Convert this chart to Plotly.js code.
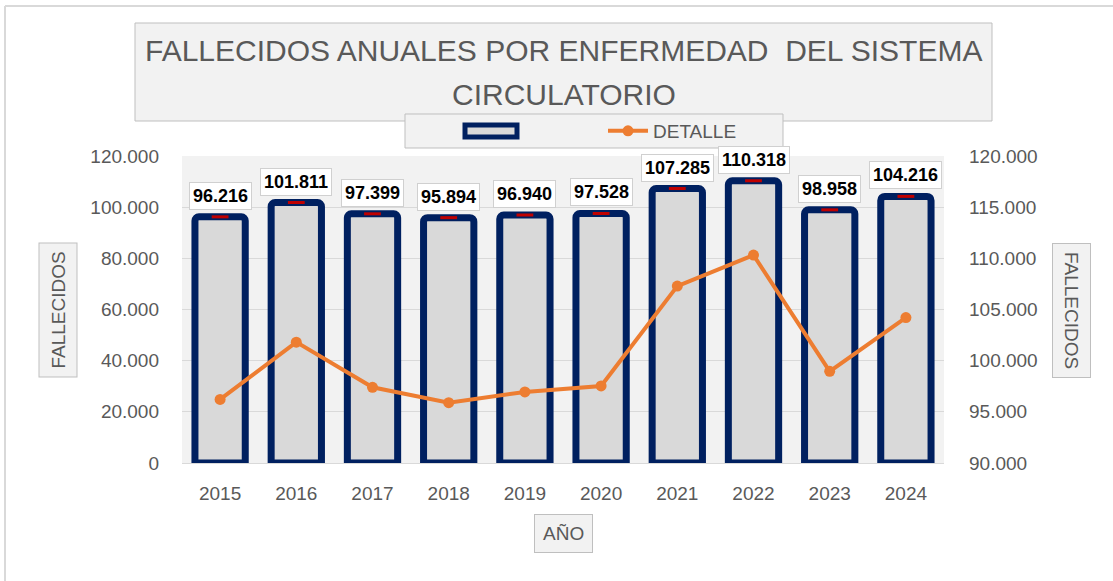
<!DOCTYPE html>
<html>
<head>
<meta charset="utf-8">
<script src="https://cdn.plot.ly/plotly-3.0.1.min.js"></script>
<style>html,body{margin:0;padding:0;background:#fff;}#chart{width:1113px;height:581px;}</style>
</head>
<body>
<div id="chart"></div>
<script>
// ---- data ----
var years = ['2015','2016','2017','2018','2019','2020','2021','2022','2023','2024'];
var fallecidos = [96216, 101811, 97399, 95894, 96940, 97528, 107285, 110318, 98958, 104216];
var titleLines = ['FALLECIDOS ANUALES POR ENFERMEDAD  DEL SISTEMA', 'CIRCULATORIO'];
var seriesName = 'DETALLE';
var yTitle = 'FALLECIDOS';
var xTitle = 'AÑO';

function fmt(v){ return String(v).replace(/\B(?=(\d{3})+(?!\d))/g, '.'); }

var W = 1113, H = 581;
var L = 182, R = 944, T = 156, B = 463;
function px(x){ return (x - L) / (R - L); }
function py(y){ return (B - y) / (B - T); }

var tickFont = {family: 'Liberation Sans, Arial, sans-serif', size: 19, color: '#595959'};

var bars = {
  type: 'bar', x: years, y: fallecidos, name: '', yaxis: 'y',
  width: 0.66,
  marker: {color: '#d9d9d9', line: {color: '#002060', width: 7}, cornerradius: 4},
  hoverinfo: 'x+y', showlegend: false
};
var redMarks = {
  type: 'scatter', mode: 'markers', x: years, y: fallecidos, yaxis: 'y', showlegend: false,
  marker: {symbol: 'line-ew', size: 12, line: {color: '#C00000', width: 3}}, hoverinfo: 'skip'
};
var line = {
  type: 'scatter', mode: 'lines+markers', x: years, y: fallecidos, yaxis: 'y2', name: seriesName,
  line: {color: '#ED7D31', width: 4}, marker: {color: '#ED7D31', size: 11, symbol: 'circle'}
};

var annotations = years.map(function(yr, i){
  return {x: i, y: fallecidos[i], xref: 'x', yref: 'y', text: '<b>' + fmt(fallecidos[i]) + '</b>',
    showarrow: false, yanchor: 'bottom', yshift: 7, bgcolor: '#ffffff', bordercolor: '#d0d0d0',
    borderwidth: 1, borderpad: 3, font: {family: 'Liberation Sans, Arial, sans-serif', size: 18, color: '#000'}};
});
var titleY = [50, 95];
titleLines.forEach(function(t, i){
  annotations.push({
    xref: 'paper', yref: 'paper', x: px(563.5), y: py(titleY[i]), text: t, showarrow: false,
    xanchor: 'center', yanchor: 'middle',
    font: {family: 'Liberation Sans, Arial, sans-serif', size: 30, color: '#595959'}
  });
});
annotations.push({
  xref: 'paper', yref: 'paper', x: px(57.5), y: py(310), text: yTitle, showarrow: false, textangle: -90,
  xanchor: 'center', yanchor: 'middle', bgcolor: '#f2f2f2', bordercolor: '#bfbfbf', borderwidth: 1, borderpad: 8,
  font: tickFont
});
annotations.push({
  xref: 'paper', yref: 'paper', x: px(1072), y: py(310), text: yTitle, showarrow: false, textangle: 90,
  xanchor: 'center', yanchor: 'middle', bgcolor: '#f2f2f2', bordercolor: '#bfbfbf', borderwidth: 1, borderpad: 8,
  font: tickFont
});
annotations.push({
  xref: 'paper', yref: 'paper', x: px(563.5), y: py(533), text: xTitle, showarrow: false,
  xanchor: 'center', yanchor: 'middle', bgcolor: '#f2f2f2', bordercolor: '#bfbfbf', borderwidth: 1, borderpad: 8,
  font: tickFont
});

var shapes = [
  {type: 'line', xref: 'paper', yref: 'paper', x0: px(5), x1: px(1130), y0: py(6), y1: py(6), line: {color: '#d9d9d9', width: 2}},
  {type: 'line', xref: 'paper', yref: 'paper', x0: px(5), x1: px(5), y0: py(6), y1: py(600), line: {color: '#d9d9d9', width: 2}},
  // title box
  {type: 'rect', xref: 'paper', yref: 'paper', x0: px(135), x1: px(992), y0: py(121), y1: py(23),
   fillcolor: '#f2f2f2', line: {color: '#bfbfbf', width: 1}, layer: 'above'},
  // legend box
  {type: 'rect', xref: 'paper', yref: 'paper', x0: px(405), x1: px(783), y0: py(148), y1: py(114),
   fillcolor: '#f2f2f2', line: {color: '#bfbfbf', width: 1}, layer: 'above'},
  // legend key for the bar series
  {type: 'rect', xref: 'paper', yref: 'paper', x0: px(465), x1: px(517), y0: py(137), y1: py(125),
   fillcolor: '#d9d9d9', line: {color: '#002060', width: 5}, layer: 'above'}
];

var layout = {
  width: W, height: H,
  margin: {l: L, r: W - R, t: T, b: H - B, pad: 0},
  paper_bgcolor: '#ffffff', plot_bgcolor: '#f2f2f2',
  separators: ',.',
  showlegend: true,
  legend: {orientation: 'h', xref: 'container', yref: 'container', x: 603/W, y: 1 - 112/H,
    xanchor: 'left', yanchor: 'top', bgcolor: 'rgba(0,0,0,0)', borderwidth: 0, itemwidth: 40,
    font: {family: 'Liberation Sans, Arial, sans-serif', size: 19, color: '#595959'}},
  xaxis: {type: 'category', range: [-0.5, 9.5], tickfont: tickFont, ticks: '', ticklabelstandoff: 13,
    showline: true, linecolor: '#d9d9d9', linewidth: 1, showgrid: false, zeroline: false, fixedrange: true},
  yaxis: {range: [0, 120000], dtick: 20000, tickformat: ',d', tickfont: tickFont, ticks: '',
    ticklabelstandoff: 22, showgrid: true, gridcolor: '#d9d9d9', gridwidth: 1, zeroline: false, fixedrange: true},
  yaxis2: {range: [90000, 120000], dtick: 5000, tickformat: ',d', tickfont: tickFont, ticks: '',
    ticklabelstandoff: 24, overlaying: 'y', side: 'right', showgrid: false, zeroline: false, fixedrange: true},
  annotations: annotations,
  shapes: shapes
};

Plotly.newPlot('chart', [bars, redMarks, line], layout, {displayModeBar: false, staticPlot: true});
</script>
</body>
</html>
